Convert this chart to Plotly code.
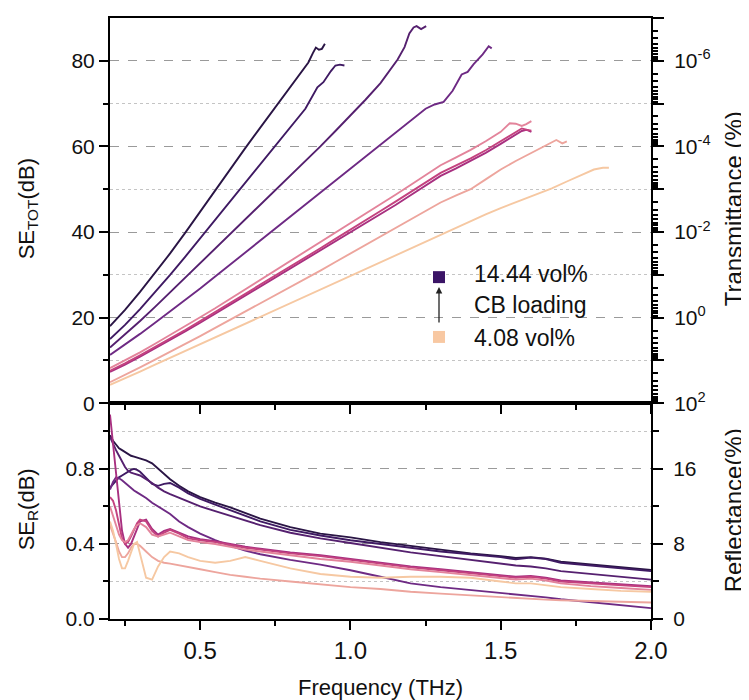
import math
import plotly.graph_objects as go

FONT = "Liberation Sans, Arial, sans-serif"

# ---------------- data: SE_TOT (dB) vs frequency (THz) ----------------
A_f = [0.20, 0.25, 0.30, 0.35, 0.40, 0.45, 0.50, 0.55, 0.60, 0.65, 0.70, 0.75, 0.80, 0.835, 0.86, 0.875, 0.885, 0.895, 0.905, 0.915]
A_se = [18.0, 21.8, 26.0, 30.5, 35.0, 39.8, 44.8, 49.8, 54.7, 59.6, 64.4, 69.2, 73.9, 77.3, 79.6, 81.8, 83.1, 82.6, 82.8, 84.0]

B_f = [0.20, 0.25, 0.30, 0.35, 0.40, 0.45, 0.50, 0.55, 0.60, 0.65, 0.70, 0.75, 0.78, 0.80, 0.85, 0.89, 0.91, 0.935, 0.95, 0.965, 0.98]
B_se = [15.0, 18.3, 22.0, 25.9, 30.0, 34.2, 38.5, 42.8, 47.1, 51.4, 55.7, 60.0, 62.8, 64.5, 68.8, 73.8, 75.0, 77.6, 78.9, 79.1, 78.9]

C_f = [0.20, 0.25, 0.30, 0.35, 0.40, 0.45, 0.50, 0.55, 0.60, 0.65, 0.70, 0.75, 0.80, 0.85, 0.90, 0.95, 1.00, 1.05, 1.10, 1.157, 1.18, 1.196, 1.21, 1.22, 1.235, 1.252]
C_se = [13.0, 16.0, 19.2, 22.5, 25.9, 29.3, 32.7, 36.1, 39.5, 42.9, 46.3, 49.7, 53.1, 56.5, 60.0, 63.6, 67.2, 70.9, 74.8, 80.3, 83.2, 86.4, 87.8, 88.1, 87.4, 88.1]

D_f = [0.20, 0.25, 0.30, 0.35, 0.40, 0.45, 0.50, 0.55, 0.60, 0.65, 0.70, 0.75, 0.80, 0.85, 0.90, 0.95, 1.00, 1.05, 1.10, 1.15, 1.20, 1.25, 1.28, 1.31, 1.34, 1.37, 1.39, 1.41, 1.44, 1.46, 1.47]
D_se = [11.3, 13.7, 16.2, 18.8, 21.4, 24.1, 26.8, 29.6, 32.4, 35.2, 38.0, 40.8, 43.6, 46.4, 49.2, 52.0, 54.8, 57.6, 60.4, 63.0, 65.8, 68.8, 69.8, 70.4, 73.0, 76.8, 77.4, 79.2, 81.5, 83.4, 82.9]

P_f = [0.20, 0.25, 0.30, 0.35, 0.40, 0.45, 0.50, 0.55, 0.60, 0.65, 0.70, 0.75, 0.80, 0.85, 0.90, 0.95, 1.00, 1.05, 1.10, 1.15, 1.20, 1.25, 1.30, 1.35, 1.40, 1.45, 1.50, 1.53, 1.55, 1.57, 1.585, 1.602]
P1_se = [8.2, 10.0, 11.9, 13.9, 15.9, 18.0, 20.1, 22.2, 24.4, 26.6, 28.8, 31.0, 33.2, 35.4, 37.6, 39.8, 42.0, 44.2, 46.4, 48.7, 51.0, 53.3, 55.6, 57.4, 59.2, 61.2, 63.4, 65.4, 65.3, 64.8, 65.2, 65.9]
P2_se = [7.6, 9.3, 11.2, 13.1, 15.1, 17.1, 19.2, 21.3, 23.4, 25.5, 27.6, 29.7, 31.8, 34.0, 36.2, 38.4, 40.5, 42.7, 44.9, 47.1, 49.3, 51.5, 53.8, 55.5, 57.2, 59.1, 61.2, 62.5, 63.3, 64.2, 63.9, 63.7]
P3_se = [7.3, 9.0, 10.9, 12.8, 14.8, 16.8, 18.8, 20.9, 23.0, 25.1, 27.2, 29.3, 31.4, 33.5, 35.6, 37.7, 39.8, 41.9, 44.1, 46.3, 48.6, 50.9, 53.1, 54.8, 56.6, 58.5, 60.6, 61.8, 62.7, 63.6, 63.9, 63.4]

Q1_f = [0.20, 0.25, 0.30, 0.35, 0.40, 0.45, 0.50, 0.55, 0.60, 0.65, 0.70, 0.75, 0.80, 0.85, 0.90, 0.95, 1.00, 1.05, 1.10, 1.15, 1.20, 1.25, 1.30, 1.35, 1.40, 1.45, 1.50, 1.55, 1.60, 1.65, 1.685, 1.705, 1.72]
Q1_se = [4.9, 6.6, 8.4, 10.2, 12.0, 13.8, 15.7, 17.6, 19.5, 21.4, 23.3, 25.2, 27.1, 29.0, 31.0, 33.0, 35.0, 37.0, 39.0, 41.0, 43.0, 45.0, 46.9, 48.5, 50.0, 52.3, 54.6, 56.6, 58.4, 60.2, 61.5, 60.7, 61.2]

Q2_f = [0.20, 0.25, 0.30, 0.35, 0.40, 0.45, 0.50, 0.55, 0.60, 0.65, 0.70, 0.75, 0.80, 0.85, 0.90, 0.95, 1.00, 1.05, 1.10, 1.15, 1.20, 1.25, 1.30, 1.35, 1.40, 1.45, 1.50, 1.55, 1.60, 1.67, 1.72, 1.77, 1.81, 1.84, 1.86]
Q2_se = [4.3, 5.8, 7.4, 9.0, 10.6, 12.2, 13.8, 15.4, 17.0, 18.6, 20.2, 21.8, 23.4, 25.0, 26.6, 28.2, 29.8, 31.4, 33.0, 34.6, 36.2, 37.8, 39.4, 41.0, 42.6, 44.1, 45.6, 47.0, 48.4, 50.2, 51.8, 53.4, 54.6, 55.0, 55.0]

# ---------------- data: SE_R (dB) vs frequency (THz) ----------------
R_f = [0.20, 0.21, 0.22, 0.23, 0.24, 0.25, 0.26, 0.27, 0.28, 0.29, 0.30, 0.32, 0.34, 0.36, 0.38, 0.40, 0.43, 0.46, 0.50, 0.55,
       0.60, 0.65, 0.70, 0.80, 0.90, 1.00, 1.10, 1.20, 1.30, 1.40, 1.50, 1.55, 1.60, 1.65, 1.70, 1.80, 1.90, 2.00]
A_r = [0.98, 0.95, 0.93, 0.91, 0.90, 0.89, 0.88, 0.87, 0.865, 0.86, 0.855, 0.845, 0.83, 0.80, 0.77, 0.745, 0.71, 0.68, 0.65, 0.62,
       0.595, 0.565, 0.535, 0.49, 0.455, 0.435, 0.41, 0.39, 0.37, 0.35, 0.335, 0.325, 0.33, 0.322, 0.305, 0.29, 0.275, 0.262]
B_r = [0.70, 0.72, 0.74, 0.755, 0.765, 0.775, 0.785, 0.795, 0.80, 0.795, 0.785, 0.75, 0.72, 0.71, 0.72, 0.725, 0.70, 0.67, 0.64, 0.61,
       0.58, 0.55, 0.52, 0.475, 0.445, 0.42, 0.40, 0.38, 0.36, 0.345, 0.33, 0.318, 0.327, 0.32, 0.30, 0.285, 0.268, 0.255]
C_r = [0.97, 0.93, 0.90, 0.87, 0.84, 0.81, 0.79, 0.78, 0.775, 0.77, 0.765, 0.745, 0.725, 0.70, 0.68, 0.665, 0.645, 0.625, 0.60, 0.575,
       0.55, 0.525, 0.50, 0.46, 0.43, 0.405, 0.38, 0.355, 0.335, 0.315, 0.295, 0.285, 0.28, 0.27, 0.255, 0.24, 0.225, 0.21]
D_r = [0.69, 0.73, 0.755, 0.75, 0.74, 0.725, 0.71, 0.695, 0.685, 0.675, 0.665, 0.645, 0.62, 0.60, 0.58, 0.56, 0.52, 0.49, 0.455, 0.42,
       0.39, 0.365, 0.345, 0.315, 0.29, 0.26, 0.225, 0.19, 0.17, 0.155, 0.14, 0.13, 0.125, 0.115, 0.105, 0.09, 0.073, 0.058]
P1_r = [0.60, 0.55, 0.50, 0.45, 0.42, 0.41, 0.42, 0.45, 0.48, 0.50, 0.51, 0.49, 0.45, 0.44, 0.45, 0.46, 0.44, 0.42, 0.41, 0.40,
        0.385, 0.37, 0.36, 0.34, 0.32, 0.305, 0.285, 0.265, 0.25, 0.235, 0.22, 0.21, 0.215, 0.205, 0.19, 0.175, 0.165, 0.155]
P2_r = [0.65, 0.63, 0.58, 0.50, 0.43, 0.40, 0.41, 0.44, 0.48, 0.51, 0.53, 0.52, 0.47, 0.44, 0.46, 0.475, 0.455, 0.43, 0.42, 0.41,
        0.395, 0.38, 0.37, 0.35, 0.335, 0.315, 0.295, 0.275, 0.26, 0.245, 0.23, 0.22, 0.225, 0.215, 0.20, 0.19, 0.18, 0.17]
P3_r = [1.09, 0.93, 0.76, 0.60, 0.47, 0.40, 0.38, 0.40, 0.44, 0.49, 0.52, 0.53, 0.48, 0.45, 0.47, 0.48, 0.46, 0.44, 0.425, 0.415,
        0.40, 0.385, 0.375, 0.355, 0.34, 0.32, 0.30, 0.28, 0.265, 0.25, 0.235, 0.225, 0.23, 0.22, 0.205, 0.195, 0.185, 0.175]
Q1_r = [0.50, 0.46, 0.41, 0.36, 0.33, 0.33, 0.35, 0.38, 0.40, 0.40, 0.39, 0.36, 0.33, 0.31, 0.30, 0.295, 0.285, 0.275, 0.265, 0.25,
        0.235, 0.225, 0.215, 0.20, 0.185, 0.17, 0.16, 0.145, 0.135, 0.125, 0.115, 0.11, 0.108, 0.103, 0.10, 0.095, 0.09, 0.088]
Q2_r = [0.52, 0.47, 0.40, 0.32, 0.27, 0.27, 0.31, 0.36, 0.40, 0.41, 0.35, 0.22, 0.21, 0.28, 0.33, 0.36, 0.35, 0.33, 0.31, 0.30,
        0.31, 0.33, 0.31, 0.27, 0.24, 0.225, 0.22, 0.225, 0.225, 0.22, 0.20, 0.19, 0.19, 0.18, 0.17, 0.16, 0.15, 0.145]

COLORS = ["#2a1545", "#3f1a63", "#55206f", "#6e2a84", "#a83080", "#c4427f", "#e3849b", "#eda59d", "#f6c8a2"]

top_series = [(A_f, A_se), (B_f, B_se), (C_f, C_se), (D_f, D_se), (P_f, P3_se), (P_f, P2_se), (P_f, P1_se), (Q1_f, Q1_se), (Q2_f, Q2_se)]
bot_series = [A_r, B_r, C_r, D_r, P3_r, P2_r, P1_r, Q1_r, Q2_r]

# transmittance (%) tick values and reflectance (%) tick values
T_major = [10.0 ** e for e in range(2, -8, -1)]
T_labels = ["10<sup>2</sup>", " ", "10<sup>0</sup>", " ", "10<sup>-2</sup>", " ", "10<sup>-4</sup>", " ", "10<sup>-6</sup>", " "]
T_minor = [k * 10.0 ** e for e in range(-7, 2) for k in range(2, 10)]
R_major = [0, 8, 16]
R_minor = [4, 12, 20]


def t_to_se(t):
    return 20 - 10 * math.log10(t)


fig = go.Figure()
for (f, se), c in zip(top_series, COLORS):
    fig.add_trace(go.Scatter(x=f, y=se, xaxis="x2", yaxis="y2", mode="lines",
                             line=dict(color=c, width=1.9), showlegend=False, hoverinfo="skip"))
for r, c in zip(bot_series, COLORS):
    fig.add_trace(go.Scatter(x=R_f, y=r, xaxis="x", yaxis="y", mode="lines",
                             line=dict(color=c, width=1.9), showlegend=False, hoverinfo="skip"))
# empty traces so that the right-hand (transmittance / reflectance) axes are drawn
fig.add_trace(go.Scatter(x=[None], y=[None], xaxis="x2", yaxis="y3", mode="lines", showlegend=False, hoverinfo="skip"))
fig.add_trace(go.Scatter(x=[None], y=[None], xaxis="x", yaxis="y4", mode="lines", showlegend=False, hoverinfo="skip"))

SE_R_MAX = 1.15
DOM = 0.359
axis_common = dict(showline=True, linewidth=2, linecolor="black", ticks="outside", tickwidth=2,
                   tickcolor="black", zeroline=False, tickfont=dict(family=FONT, size=21, color="#111"))

fig.update_layout(
    width=741, height=692,
    margin=dict(l=102, r=98, t=8, b=81),
    paper_bgcolor="white", plot_bgcolor="white",
    font=dict(family=FONT, color="#111"),
    xaxis=dict(domain=[0, 1], range=[0.2, 2.0], anchor="y", tickvals=[0.5, 1.0, 1.5, 2.0],
               ticktext=["0.5", "1.0", "1.5", "2.0"], ticklen=9, mirror=True, showgrid=False,
               minor=dict(tickvals=[0.25, 0.75, 1.25, 1.75], ticks="outside", ticklen=5, tickwidth=2, tickcolor="black"),
               **{**axis_common, "tickfont": dict(family=FONT, size=24, color="#111")}),
    xaxis2=dict(domain=[0, 1], range=[0.2, 2.0], anchor="y2", tickvals=[0.5, 1.0, 1.5, 2.0],
                showticklabels=False, ticklen=9, mirror=True, showgrid=False,
                minor=dict(tickvals=[0.25, 0.75, 1.25, 1.75], ticks="outside", ticklen=5, tickwidth=2, tickcolor="black"),
                **axis_common),
    yaxis=dict(domain=[0, DOM], range=[0, SE_R_MAX], anchor="x", tickvals=[0, 0.4, 0.8],
               ticktext=["0.0", "0.4", "0.8"], ticklen=9,
               showgrid=True, gridcolor="#9a9a9a", griddash="dash", gridwidth=1,
               minor=dict(tickvals=[0.2, 0.6, 1.0], ticks="outside", ticklen=5, tickwidth=2, tickcolor="black",
                          showgrid=True, gridcolor="#c4c4c4", griddash="dot", gridwidth=1),
               **axis_common),
    yaxis2=dict(domain=[DOM, 1], range=[0, 90], anchor="x2", tickvals=[0, 20, 40, 60, 80], ticklen=9,
                showgrid=True, gridcolor="#9a9a9a", griddash="dash", gridwidth=1,
                minor=dict(tickvals=[10, 30, 50, 70], ticks="outside", ticklen=5, tickwidth=2, tickcolor="black",
                           showgrid=True, gridcolor="#c4c4c4", griddash="dot", gridwidth=1),
                **axis_common),
    yaxis3=dict(overlaying="y2", side="right", anchor="x2", range=[0, 90],
                tickvals=[t_to_se(t) for t in T_major], ticktext=T_labels, ticklen=11, showgrid=False,
                ticklabelstandoff=6,
                minor=dict(tickvals=[t_to_se(t) for t in T_minor], ticks="outside", ticklen=5, tickwidth=1.5,
                           tickcolor="black", showgrid=False),
                **axis_common),
    yaxis4=dict(overlaying="y", side="right", anchor="x", range=[0, SE_R_MAX * 20],
                tickvals=R_major, ticktext=[str(v) for v in R_major], ticklen=10, showgrid=False,
                ticklabelstandoff=6,
                minor=dict(tickvals=R_minor, ticks="outside", ticklen=6, tickwidth=2, tickcolor="black", showgrid=False),
                **axis_common),
)

# ---- axis titles (positions given in page pixels, converted to plot-area fractions) ----
W, X0 = 541.0, 110.0
H, Y0 = 603.0, 619.0


def px(x):
    return (x - X0) / W


def py(y):
    return (Y0 - y) / H


titles = [
    ("SE<sub>TOT</sub>(dB)", 28, 208, -90, 22),
    ("SE<sub>R</sub>(dB)", 28, 509, -90, 22),
    ("Transmittance (%)", 733, 208, -90, 24),
    ("Reflectance(%)", 733, 510, -90, 24),
    ("Frequency (THz)", 380, 688, 0, 22),
]
for txt, x, y, ang, size in titles:
    fig.add_annotation(text=txt, xref="paper", yref="paper", x=px(x), y=py(y), showarrow=False,
                       textangle=ang, xanchor="center", yanchor="middle",
                       font=dict(family=FONT, size=size, color="#111"))

# ---- legend: squares, arrow, text ----
fig.add_shape(type="rect", xref="paper", yref="paper", x0=px(433), x1=px(445), y0=py(282), y1=py(270),
              fillcolor="#3b1466", line=dict(width=0))
fig.add_shape(type="rect", xref="paper", yref="paper", x0=px(433), x1=px(445), y0=py(342), y1=py(330),
              fillcolor="#f8c8a2", line=dict(width=0))
fig.add_annotation(text="", xref="paper", yref="paper", x=px(439), y=py(286), ax=0, ay=37,
                   showarrow=True, arrowhead=2, arrowsize=1, arrowwidth=1.3, arrowcolor="#222")
for txt, y in [("14.44 vol%", 273), ("CB loading", 304), ("4.08 vol%", 337)]:
    fig.add_annotation(text=txt, xref="paper", yref="paper", x=px(472), y=py(y), showarrow=False,
                       xanchor="left", yanchor="middle", font=dict(family=FONT, size=23, color="#111"))

fig.write_html("out.html")
